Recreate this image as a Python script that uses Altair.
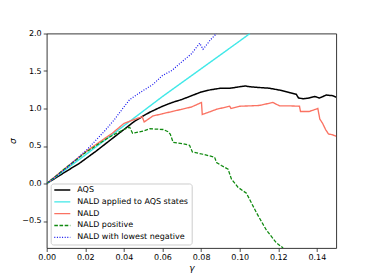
import altair as alt
import pandas as pd

# ---- data ----
series_names = ["AQS", "NALD applied to AQS states", "NALD", "NALD positive", "NALD with lowest negative"]

aqs_g = [0, 0.005, 0.01, 0.017, 0.0255, 0.034, 0.04, 0.045, 0.05, 0.0534, 0.06, 0.065, 0.07, 0.075,
         0.08, 0.085, 0.09, 0.095, 0.10, 0.103, 0.1052, 0.11, 0.1155, 0.1207, 0.126, 0.1293, 0.1305,
         0.133, 0.136, 0.1388, 0.1414, 0.1449, 0.1483, 0.15]
aqs_s = [0, 0.08, 0.16, 0.27, 0.43, 0.60, 0.72, 0.82, 0.90, 0.95, 1.03, 1.08, 1.12, 1.17,
         1.22, 1.25, 1.27, 1.27, 1.29, 1.30, 1.29, 1.28, 1.27, 1.245, 1.21, 1.19, 1.14,
         1.13, 1.14, 1.16, 1.14, 1.18, 1.17, 1.15]

cyan_g = [0, 0.02, 0.04, 0.06, 0.08, 0.10, 0.1053]
cyan_s = [0, 0.38, 0.77, 1.16, 1.53, 1.90, 2.0]

nald_g = [0, 0.01, 0.02, 0.03, 0.034, 0.04, 0.045, 0.0495, 0.0505, 0.055, 0.06, 0.065, 0.07, 0.075,
          0.0802, 0.0806, 0.085, 0.088, 0.0948, 0.0955, 0.10, 0.105, 0.11, 0.1172, 0.1207, 0.126,
          0.131, 0.1315, 0.136, 0.1405, 0.1415, 0.143, 0.1445, 0.146, 0.148, 0.15]
nald_s = [0, 0.21, 0.42, 0.60, 0.67, 0.80, 0.85, 0.89, 0.82, 0.90, 0.93, 0.96, 0.99, 1.02,
          1.08, 0.92, 0.96, 0.99, 1.03, 1.00, 1.03, 1.035, 1.04, 1.08, 1.035, 1.035,
          1.03, 0.96, 0.96, 1.00, 0.86, 0.80, 0.72, 0.66, 0.65, 0.63]

pos_g = [0, 0.01, 0.02, 0.03, 0.034, 0.04, 0.043, 0.0445, 0.05, 0.0534, 0.0603, 0.0629, 0.064,
         0.0655, 0.0707, 0.074, 0.0755, 0.081, 0.087, 0.088, 0.0905, 0.094, 0.0957, 0.0991,
         0.1035, 0.1087, 0.1138, 0.119, 0.1225]
pos_s = [0, 0.21, 0.41, 0.58, 0.64, 0.72, 0.75, 0.67, 0.70, 0.73, 0.72, 0.69, 0.66,
         0.55, 0.53, 0.51, 0.42, 0.39, 0.35, 0.28, 0.24, 0.19, 0.06, -0.05,
         -0.13, -0.39, -0.62, -0.79, -0.86]

neg_g = [0, 0.01, 0.021, 0.03, 0.035, 0.04, 0.043, 0.05, 0.055, 0.06, 0.065, 0.069, 0.075,
         0.0793, 0.081, 0.085, 0.088]
neg_s = [0, 0.20, 0.455, 0.70, 0.85, 1.02, 1.12, 1.24, 1.32, 1.44, 1.51, 1.60, 1.73,
         1.87, 1.79, 1.92, 2.0]

x_ticks = [0.0, 0.02, 0.04, 0.06, 0.08, 0.10, 0.12, 0.14]
y_ticks = [-0.5, 0.0, 0.5, 1.0, 1.5, 2.0]

colors = ["#000000", "#40E8E8", "#FA7262", "#108A10", "#1010EE"]
dashes = [[1, 0], [1, 0], [1, 0], [3.6, 1.6], [1, 1.6]]
widths = [1.5, 1.2, 1.2, 1.2, 1.2]

rows = []
for name, gs, ss in zip(series_names,
                        [aqs_g, cyan_g, nald_g, pos_g, neg_g],
                        [aqs_s, cyan_s, nald_s, pos_s, neg_s]):
    for i, (g, s) in enumerate(zip(gs, ss)):
        rows.append({"series": name, "gamma": g, "sigma": s, "i": i})
df = pd.DataFrame(rows)

font = "DejaVu Sans"
leg = alt.Legend(
    title=None, orient="none", legendX=4, legendY=150,
    symbolType="stroke", symbolSize=256, symbolStrokeWidth=1.3,
    clipHeight=8, rowPadding=3.8, padding=2.6, labelOffset=6,
    labelFont=font, labelFontSize=8, labelColor="black",
    fillColor="rgba(255,255,255,0.85)", strokeColor="#cccccc", cornerRadius=2.5,
)

chart = alt.Chart(df).mark_line(clip=True).encode(
    x=alt.X("gamma:Q", scale=alt.Scale(domain=[0, 0.15], nice=False, zero=False),
            axis=alt.Axis(values=x_ticks, format=".2f", title="γ", labelFlush=False)),
    y=alt.Y("sigma:Q", scale=alt.Scale(domain=[-0.86, 2.0], nice=False, zero=False),
            axis=alt.Axis(values=y_ticks, format=".1f", title="σ", labelFlush=False)),
    color=alt.Color("series:N", scale=alt.Scale(domain=series_names, range=colors),
                    sort=series_names, legend=leg),
    strokeDash=alt.StrokeDash("series:N", scale=alt.Scale(domain=series_names, range=dashes),
                              sort=series_names, legend=leg),
    strokeWidth=alt.StrokeWidth("series:N", scale=alt.Scale(domain=series_names, range=widths),
                                sort=series_names, legend=None),
    order="i:Q",
).properties(
    width=289.5, height=214.5,
    autosize=alt.AutoSizeParams(type="none"),
    padding={"left": 38.7, "top": 25.5, "right": 20, "bottom": 25},
).configure_view(
    stroke="#222222", strokeWidth=0.9
).configure_axis(
    grid=False, domain=False, tickColor="#222222", tickSize=3.5, tickWidth=0.8,
    labelFont=font, labelFontSize=8, labelColor="black", labelPadding=2,
    titleFont=font, titleFontSize=9, titleFontStyle="italic", titleFontWeight="normal",
    titleColor="black",
).configure_axisX(titlePadding=2).configure_axisY(titlePadding=4)

chart.save("out.html", embed_options={"renderer": "svg", "actions": False})
